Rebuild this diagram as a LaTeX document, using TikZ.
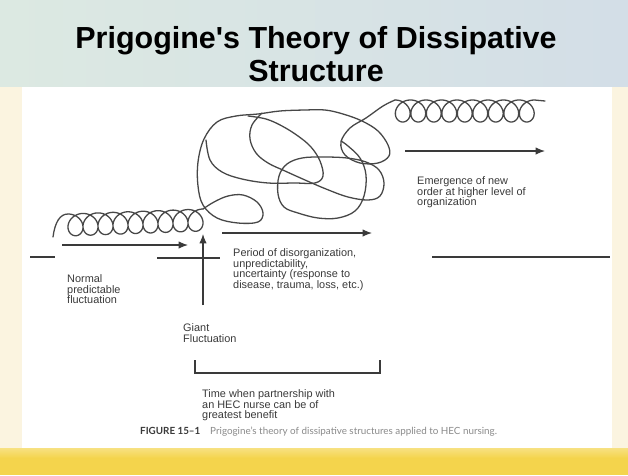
\documentclass[tikz,border=0pt]{standalone}
\usepackage{fontspec}
\setmainfont{Liberation Sans}
\newfontfamily\capfont{Lato}
\usetikzlibrary{arrows.meta,positioning}

\definecolor{inkgray}{HTML}{3A3A3A}
\definecolor{coilgray}{HTML}{474747}
\definecolor{capgray}{HTML}{8A8A8A}
\definecolor{skyleft}{HTML}{DCE9E2}
\definecolor{skyright}{HTML}{D3DEE7}
\definecolor{creamside}{HTML}{FBF4E0}
\definecolor{goldband}{HTML}{F4D44C}

\begin{document}
\begin{tikzpicture}[x=0.03cm,y=-0.03cm,>={Latex[length=2.8mm,width=2.2mm]},
  txt/.style={anchor=north west,align=left,inner sep=0pt,
    font=\fontsize{9.3}{9.3}\selectfont,text=inkgray},
  coil/.style={line width=1.1pt,draw=coilgray,line join=round,line cap=round},
  flow/.style={->,line width=1pt,draw=inkgray},
  bar/.style={line width=1pt,draw=inkgray}]

\useasboundingbox (0,0) rectangle (628,475);

% slide background
\shade[left color=skyleft,right color=skyright] (0,0) rectangle (628,87);
\fill[creamside] (0,87) rectangle (22,448);
\fill[creamside] (612,87) rectangle (628,448);
\fill[white] (22,87) rectangle (612,448);
\shade[top color=goldband!70!white,bottom color=goldband] (0,448) rectangle (628,458);
\fill[goldband] (0,458) rectangle (628,475);

% title
\node[font=\bfseries\fontsize{26}{28}\selectfont,align=center,anchor=north,inner sep=0pt]
  (title) at (316,26) {Prigogine\textquotesingle s Theory of Dissipative\\Structure};

% end points of the arrows and bars
\coordinate (normS) at (62,245);   \coordinate (normE) at (188,245);
\coordinate (giantS) at (203,305); \coordinate (giantE) at (203,234);
\coordinate (disS) at (222,233);   \coordinate (disE) at (372,233);
\coordinate (newS) at (405,151);   \coordinate (newE) at (545,151);
\coordinate (lvlA) at (30,257);    \coordinate (lvlB) at (55,257);
\coordinate (lvlC) at (157,258);   \coordinate (lvlD) at (220,258);
\coordinate (lvlE) at (432,257);   \coordinate (lvlF) at (610,257);
\coordinate (brL) at (195,373);    \coordinate (brR) at (380,373);

% levels
\draw[bar] (lvlA) -- (lvlB);
\draw[bar] (lvlC) -- (lvlD);
\draw[bar] (lvlE) -- (lvlF);

% arrows
\draw[flow] (normS) -- (normE);
\draw[flow] (giantS) -- (giantE);
\draw[flow] (disS) -- (disE);
\draw[flow] (newS) -- (newE);

% bracket
\draw[bar] (brL) ++(0,-13) -- (brL) -- (brR) -- ++(0,-13);

% old order: coil
\draw[coil] (53,237) .. controls (55,222) and (60,214) .. (68,214)
  -- plot[domain=0:3240,samples=600] ({68+15*(\x/360)+11*sin(\x)},{225-5*(\x/3240)-11*cos(\x)});

% disorganization: tangle
\draw[coil] plot[smooth,tension=0.6] coordinates {(203,209) (214,202) (228,196) (243,195)
  (257,202) (263,213) (258,222) (238,223) (217,218) (203,205) (198,186) (198,162)
  (204,139) (217,122) (236,116) (258,114) (280,111) (305,110) (325,110) (343,114)
  (362,121) (378,131) (388,145) (389,156) (378,163) (360,163) (345,155) (341,142)
  (350,128) (366,118) (383,106) (395,100)};
\draw[coil] plot[smooth,tension=0.6] coordinates {(206,140) (210,160) (222,172) (242,179)
  (268,183) (295,183) (315,183) (323,176) (320,161) (311,147) (298,136) (282,126)
  (266,119) (248,116)};
\draw[coil] plot[smooth,tension=0.6] coordinates {(262,113) (252,125) (250,139) (256,153)
  (268,163) (285,171) (305,180) (326,189) (348,197) (368,200) (380,196) (384,183)
  (379,170) (366,162) (347,158) (323,157) (302,158) (287,164) (279,176) (278,194)
  (284,207) (298,213) (318,218) (338,218) (355,211) (364,196) (366,175) (360,158)
  (348,146) (341,141)};

% new order: coil
\draw[coil] plot[domain=0:3240,samples=600] ({395+15.5*(\x/360)+11*sin(\x)},{111-11*cos(\x)})
  -- (545,101);

% labels
\node[txt] (normal) at (67,274) {Normal\\predictable\\fluctuation};
\node[txt] (period) at (233,248) {Period of disorganization,\\unpredictability,\\uncertainty (response to\\disease, trauma, loss, etc.)};
\node[txt] (giant) at (183,323) {Giant\\Fluctuation};
\node[txt] (partner) at (202,389) {Time when partnership with\\an HEC nurse can be of\\greatest benefit};
\node[txt] (emerge) at (417,176) {Emergence of new\\order at higher level of\\organization};

% caption
\node[anchor=base west,inner sep=0pt,font=\capfont\fontsize{8.4}{9}\selectfont,text=capgray]
  (caption) at (140,434) {{\bfseries\color{inkgray}FIGURE 15–1}\quad Prigogine’s theory of dissipative structures applied to HEC nursing.};

\end{tikzpicture}
\end{document}
